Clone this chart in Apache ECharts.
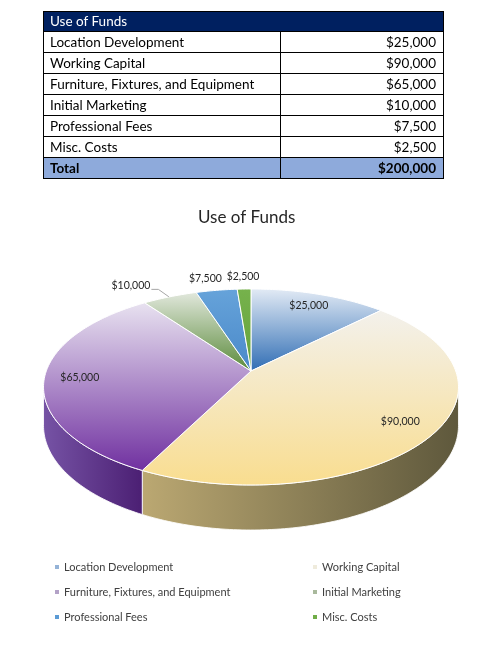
<!DOCTYPE html>
<html><head><meta charset="utf-8">
<script src="https://cdn.jsdelivr.net/npm/echarts@6/dist/echarts.min.js"></script>
<style>
html,body{margin:0;padding:0;background:#fff;}
#chart{position:absolute;left:0;top:0;width:489px;height:665px;}
#tbl{position:absolute;left:43px;top:11px;width:401px;border-collapse:collapse;font-family:Lato,'Noto Sans',sans-serif;font-size:13.5px;color:#000;table-layout:fixed;}
#tbl td{border:1px solid #000;height:20px;padding:0;line-height:20px;white-space:nowrap;}
#tbl td.l{padding-left:6px;}
#tbl td.r{padding-right:7px;text-align:right;}
#tbl tr.hd td{background:#002060;color:#fff;height:19px;line-height:19px;}
#tbl tr.tot td{background:#8eaadb;font-weight:bold;}
</style></head>
<body>
<div id="chart"></div>
<table id="tbl"><colgroup><col style="width:237px"><col></colgroup><tbody id="tb"></tbody></table>
<script>
// ---- data ----
const tableTitle = 'Use of Funds';
const chartTitle = 'Use of Funds';
const categories = ['Location Development','Working Capital','Furniture, Fixtures, and Equipment','Initial Marketing','Professional Fees','Misc. Costs'];
const values = [25000, 90000, 65000, 10000, 7500, 2500];
const totalLabel = 'Total';

// ---- styles ----
const topColors = [['#e3ebf5','#2f6db4'],['#f3f1ec','#f9dd8f'],['#e8e2f0','#7030a0'],['#e2e8dd','#5a8a3a'],['#66a3da','#4a89c9'],['#76b24c','#65a23c']];
const wallColors = [['#4f81bd','#2f5f99'],['#bba872','#5e583c'],['#7653a5','#4b1f73'],['#6f9a52','#4c7333'],['#4f89c2','#356aa0'],['#5f9a3a','#4a7c2c']];
const legendColors = ['#95b3d7','#efebdc','#b3a2c7','#a9b99c','#5b9bd5','#70ad47'];

const fmt = v => '$' + v.toLocaleString('en-US');
const total = values.reduce((a,b)=>a+b,0);

// table
(function(){
  const tb = document.getElementById('tb');
  let h = '<tr class="hd"><td class="l" colspan="2">' + tableTitle + '</td></tr>';
  categories.forEach((c,i)=>{ h += '<tr><td class="l">'+c+'</td><td class="r">'+fmt(values[i])+'</td></tr>'; });
  h += '<tr class="tot"><td class="l">'+totalLabel+'</td><td class="r">'+fmt(total)+'</td></tr>';
  tb.innerHTML = h;
})();

// geometry of the tilted pie (perspective)
const G = {cx:251, cy:371, A:204.7, B:95.4, s:0.163, D:37.7};
function proj(deg, f){
  const t = deg*Math.PI/180;
  const u = f*Math.sin(t), v = f*Math.cos(t);
  const den = 1 + G.s*v;
  return [G.cx + G.A*u/den, G.cy - G.B*v/den];
}
function depth(deg){ return G.D/(1 + G.s*Math.cos(deg*Math.PI/180)); }
const wallMin = Math.acos(-G.s)*180/Math.PI, wallMax = 360 - wallMin;

function arcPts(a0, a1, f, dy){
  const pts = [];
  const n = Math.max(2, Math.ceil(Math.abs(a1-a0)));
  for(let k=0;k<=n;k++){
    const a = a0 + (a1-a0)*k/n;
    const p = proj(a, f);
    pts.push([p[0], p[1] + (dy ? depth(a) : 0)]);
  }
  return pts;
}

function renderItem(params, api){
  const i = params.seriesIndex;
  let start = 0;
  for(let k=0;k<i;k++) start += values[k];
  const v = api.value(0);
  const a0 = start/total*360, a1 = (start+v)/total*360, mid = (a0+a1)/2;
  const children = [];
  // side wall
  const w0 = Math.max(a0, wallMin), w1 = Math.min(a1, wallMax);
  if (w1 > w0){
    const top = arcPts(w0, w1, 1, false);
    const bot = arcPts(w1, w0, 1, true);
    children.push({type:'polygon', shape:{points: top.concat(bot)},
      style:{fill:{type:'linear',x:0,y:0,x2:1,y2:0,colorStops:[{offset:0,color:wallColors[i][0]},{offset:1,color:wallColors[i][1]}]},
        stroke:'rgba(255,255,255,0.85)', lineWidth:1}});
  }
  // top face
  const pts = [[G.cx, G.cy]].concat(arcPts(a0, a1, 1, false));
  children.push({type:'polygon', shape:{points: pts},
    style:{fill:{type:'linear',x:0,y:0,x2:0,y2:1,colorStops:[{offset:0,color:topColors[i][0]},{offset:1,color:topColors[i][1]}]},
      stroke:'#ffffff', lineWidth:1}});
  // label
  const pct = v/total;
  const u = Math.sin(mid*Math.PI/180);
  const txtStyle = {text: fmt(v), fill:'#262626', fontSize:10.5, fontFamily:'Lato', verticalAlign:'middle'};
  if (pct >= 0.1){
    const p = proj(mid, 0.83);
    children.push({type:'text', style:Object.assign({x:p[0], y:p[1], align:'center'}, txtStyle)});
  } else {
    const p = proj(mid, 1.18);
    if (u < -0.3){
      const e = proj(mid, 1.0);
      children.push({type:'text', style:Object.assign({x:p[0]-7, y:p[1], align:'right'}, txtStyle)});
      children.push({type:'polyline', shape:{points:[[p[0]-6,p[1]+4],[p[0]+1,p[1]+4],[e[0]-1,e[1]]]}, style:{stroke:'#a6a6a6', lineWidth:1, fill:null}});
    } else if (u < -0.1){
      children.push({type:'text', style:Object.assign({x:p[0]+10.5, y:p[1], align:'right'}, txtStyle)});
    } else {
      children.push({type:'text', style:Object.assign({x:p[0], y:p[1], align:'center'}, txtStyle)});
    }
  }
  return {type:'group', children};
}

const series = categories.map((c,i)=>({
  type:'custom', name:c, coordinateSystem:'none', renderItem,
  itemStyle:{color: legendColors[i]}, data:[[values[i]]], silent:true
}));

const legendBase = {orient:'vertical', icon:'rect', itemWidth:4, itemHeight:4, itemGap:11, itemHeight:4,
  textStyle:{fontFamily:'Lato', fontSize:11, color:'#404040', lineHeight:14}, selectedMode:false};

const chart = echarts.init(document.getElementById('chart'), null, {renderer:'canvas'});
chart.setOption({
  animation:false,
  title:{text: chartTitle, left: 193, top: 204, textStyle:{fontFamily:'Lato', fontSize:17, fontWeight:'normal', color:'#262626'}},
  legend:[
    Object.assign({left:50, top:555, data:[categories[0],categories[2],categories[4]]}, legendBase),
    Object.assign({left:308, top:555, data:[categories[1],categories[3],categories[5]]}, legendBase)
  ],
  series
});
</script>
</body></html>
